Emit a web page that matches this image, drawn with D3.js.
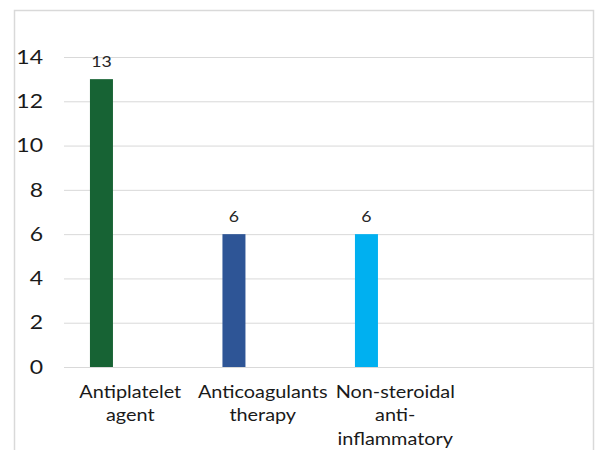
<!DOCTYPE html>
<html>
<head>
<meta charset="utf-8">
<script src="https://cdn.jsdelivr.net/npm/d3@7"></script>
<style>
  html, body { margin: 0; padding: 0; background: #fff; }
  svg { display: block; }
</style>
</head>
<body>
<div id="chart"></div>
<script>
// Drug classes (the fourth slot of the category axis is left empty)
const categories = ["Antiplatelet agent", "Anticoagulants therapy", "Non-steroidal anti-inflammatory", ""];
// Wrapped axis label lines per category
const categoryLines = [["Antiplatelet", "agent"], ["Anticoagulants", "therapy"], ["Non-steroidal", "anti-", "inflammatory"], []];
// Number of patients per drug class
const counts = [13, 6, 6, null];
const barColors = ["#176334", "#2E5596", "#00B0F0", "#999999"];
const yTicks = [0, 2, 4, 6, 8, 10, 12, 14];

const width = 595, height = 450;
const plot = { left: 64, right: 594, top: 57, bottom: 367 };
const fontFamily = "Lato, 'Open Sans', sans-serif";
const stretch = 1.18;      // wide rendering for numbers
const labelStretch = 1.135; // wide rendering for category labels

const svg = d3.select("#chart").append("svg")
  .attr("width", width).attr("height", height);

// Chart frame
svg.append("rect")
  .attr("x", 14.5).attr("y", 10.5)
  .attr("width", 579).attr("height", 460)
  .attr("fill", "#fff")
  .attr("stroke", "#d9d9d9").attr("stroke-width", 1.5);

const x = d3.scaleBand().domain(categories).range([plot.left, plot.right]);
// Position of the bar inside each category slot
const xInner = d3.scaleBand().domain(["count"]).range([0, x.bandwidth()])
  .paddingOuter(2.38).align(0.237);
const y = d3.scaleLinear().domain([0, 14]).range([plot.bottom, plot.top]);

// Horizontal gridlines
svg.append("g")
  .attr("transform", `translate(${plot.left},0)`)
  .call(d3.axisLeft(y).tickValues(yTicks).tickSize(-(plot.right - plot.left)).tickFormat(""))
  .call(g => g.select(".domain").remove())
  .call(g => g.selectAll("line").attr("stroke", "#d9d9d9").attr("stroke-width", 1));

// Y tick labels
svg.append("g")
  .attr("transform", `translate(43,0)`)
  .call(d3.axisLeft(y).tickValues(yTicks).tickSize(0).tickPadding(0))
  .call(g => g.select(".domain").remove())
  .call(g => g.selectAll("text")
    .attr("x", null)
    .attr("transform", `scale(${stretch},1)`)
    .attr("font-family", fontFamily)
    .attr("font-size", 19.5)
    .attr("fill", "#1a1a1a"));

const rows = categories.map((c, i) => ({ c, v: counts[i], color: barColors[i], lines: categoryLines[i] }));

// Bars
svg.append("g").selectAll("rect")
  .data(rows.filter(d => d.v != null))
  .join("rect")
  .attr("x", d => x(d.c) + xInner("count"))
  .attr("width", xInner.bandwidth())
  .attr("y", d => y(d.v))
  .attr("height", d => y(0) - y(d.v))
  .attr("fill", d => d.color);

// Value labels
svg.append("g").selectAll("text")
  .data(rows.filter(d => d.v != null))
  .join("text")
  .attr("transform", d => `translate(${x(d.c) + xInner("count") + xInner.bandwidth() / 2},${y(d.v) - 12}) scale(${stretch},1)`)
  .attr("text-anchor", "middle")
  .attr("font-family", fontFamily)
  .attr("font-size", 15)
  .attr("fill", "#262626")
  .text(d => d.v);

// Category labels
const labels = svg.append("g").selectAll("text")
  .data(rows)
  .join("text")
  .attr("text-anchor", "middle")
  .attr("font-family", fontFamily)
  .attr("font-size", 17.5)
  .attr("fill", "#1a1a1a")
  .attr("transform", d => `translate(${x(d.c) + x.bandwidth() / 2},398) scale(${labelStretch},1)`);

labels.selectAll("tspan")
  .data(d => d.lines)
  .join("tspan")
  .attr("x", 0)
  .attr("y", (d, i) => i * 23.5)
  .text(d => d);
</script>
</body>
</html>
